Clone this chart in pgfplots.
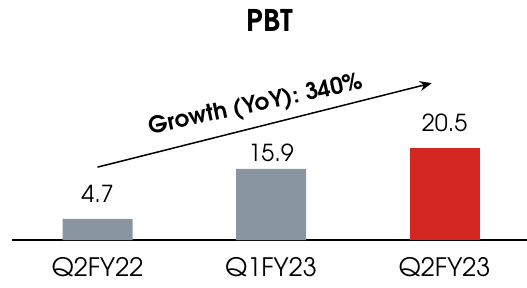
\documentclass[border=0pt]{standalone}
\usepackage{pgfplots}
\pgfplotsset{compat=1.18}
\usepackage{fontspec}
\setmainfont{TeX Gyre Adventor}
\usetikzlibrary{arrows.meta}
\definecolor{bargray}{RGB}{137,149,161}
\definecolor{barred}{RGB}{211,38,32}
\begin{document}
\begin{tikzpicture}
\begin{axis}[
  scale only axis,
  width=515bp, height=240bp,
  xmin=-0.493, xmax=2.475,
  ymin=0, ymax=53.69,
  axis x line=bottom,
  axis y line=none,
  axis line style={-, line width=1.1bp, black},
  xtick={0,1,2},
  xticklabels={Q2FY22,Q1FY23,Q2FY23},
  major tick length=0pt,
  xticklabel style={font=\fontsize{25.5}{25.5}\selectfont, yshift=-14bp},
  ybar, bar width=70bp, bar shift=0pt,
  clip=false,
]
\addplot[fill=bargray, draw=none] coordinates {(0,4.7) (1,15.9)};
\addplot[fill=barred, draw=none] coordinates {(2,20.5)};
\node[font=\fontsize{23.5}{23.5}\selectfont] at (axis cs:0,10.4) {4.7};
\node[font=\fontsize{23.5}{23.5}\selectfont] at (axis cs:1,19.6) {15.9};
\node[font=\fontsize{23.5}{23.5}\selectfont] at (axis cs:2,26.3) {20.5};
\draw[line width=1.5bp, -{Stealth[length=12bp,width=10bp]}] (axis cs:0,16.3) -- (axis cs:1.926,35.1);
\node[font=\bfseries\fontsize{23}{23}\selectfont, rotate=12] at (axis cs:0.914,30.0) {Growth (YoY): 340\%};
\node[font=\bfseries\fontsize{30}{30}\selectfont] at (axis cs:0.994,49.2) {PBT};
\end{axis}
\pgfresetboundingbox
\path ([xshift=-12bp,yshift=-48bp]current axis.south west) rectangle (current axis.north east);
\end{tikzpicture}
\end{document}
